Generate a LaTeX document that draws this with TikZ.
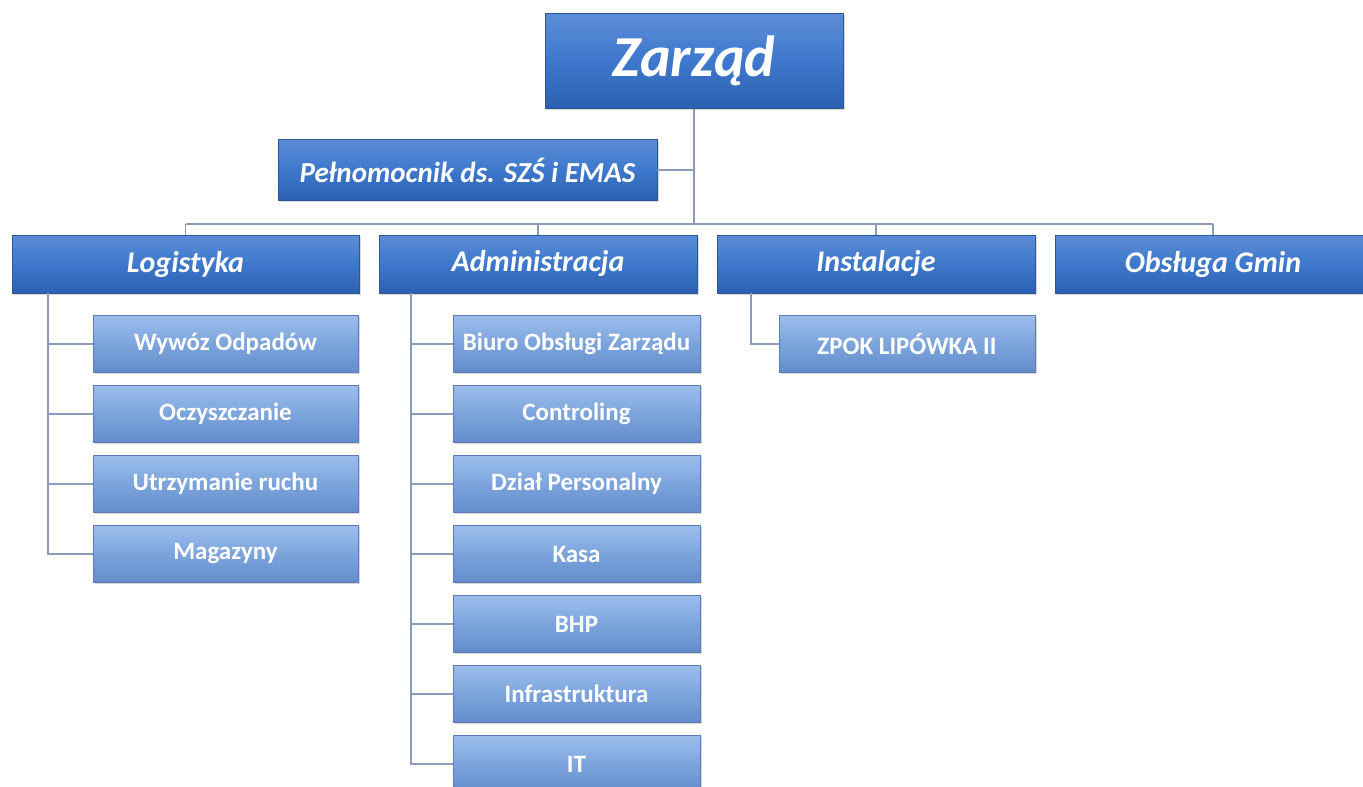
\documentclass[tikz,border=0pt]{standalone}
\usepackage{fontspec}
\setmainfont{Carlito}
\usetikzlibrary{shadows}

\begin{document}
\begin{tikzpicture}[x=1pt,y=1pt,yscale=-1,xscale=1,
    topbox/.style={draw={rgb, 255:red, 44; green, 86; blue, 150}, line width=0.8pt,
        top color={rgb, 255:red, 92; green, 142; blue, 216},
        bottom color={rgb, 255:red, 44; green, 96; blue, 176},
        middle color={rgb, 255:red, 62; green, 120; blue, 204},
        drop shadow={shadow xshift=1.5pt, shadow yshift=-1.5pt, opacity=0.3},
        text=white, inner sep=0pt, minimum height=58pt,
        font=\bfseries\itshape\fontsize{30}{34}\selectfont},
    subbox/.style={draw={rgb, 255:red, 92; green, 126; blue, 180}, line width=0.8pt,
        top color={rgb, 255:red, 156; green, 190; blue, 236},
        bottom color={rgb, 255:red, 100; green, 140; blue, 202},
        middle color={rgb, 255:red, 124; green, 164; blue, 220},
        drop shadow={shadow xshift=1.5pt, shadow yshift=-1.5pt, opacity=0.3},
        text=white, inner sep=0pt, minimum height=57pt,
        font=\bfseries\fontsize{25}{29}\selectfont},
    link/.style={draw={rgb, 255:red, 140; green, 156; blue, 184}, line width=1.3pt}]

    \path[use as bounding box, fill=white] (0,0) rectangle (1363,787);

    % Zarzad and Pelnomocnik
    \node[topbox, minimum width=298pt, minimum height=95pt, font=\bfseries\itshape\fontsize{58}{62}\selectfont] (zarzad) at (694,61) {Zarząd};
    \node[topbox, minimum width=379pt, minimum height=61pt, font=\bfseries\itshape\fontsize{29}{33}\selectfont] (pelnomocnik) at (467.5,170) {Pełnomocnik ds. SZŚ i EMAS};
    \coordinate (bus) at (694,224);

    % Departments
    \node[topbox, minimum width=347pt] (logistyka) at (185.5,264) {Logistyka};
    \node[topbox, minimum width=318pt] (administracja) at (538,264) {Administracja};
    \node[topbox, minimum width=318pt] (instalacje) at (876,264) {Instalacje};
    \node[topbox, minimum width=316pt] (gminy) at (1213,264) {Obsługa Gmin};

    % Links of the top levels
    \draw[link] (zarzad.south) -- (zarzad.south |- bus);
    \draw[link] (pelnomocnik.east) -- (pelnomocnik.east -| zarzad.south);
    \draw[link] (logistyka.north |- bus) -- (gminy.north |- bus);
    \foreach \dept in {logistyka,administracja,instalacje,gminy}
        \draw[link] (\dept.north |- bus) -- (\dept.north);

    % Spines
    \coordinate (logspine) at (48,293);
    \coordinate (admspine) at (411,293);
    \coordinate (insspine) at (751,293);

    % Logistyka units
    \foreach \unit [count=\i from 0] in {Wywóz Odpadów,Oczyszczanie,Utrzymanie ruchu,Magazyny} {
        \draw[link] (logspine) |- (225.5,344+70*\i);
        \node[subbox, minimum width=265pt] (log\i) at (225.5,344+70*\i) {\unit};
    }

    % Administracja units
    \foreach \unit [count=\i from 0] in {Biuro Obsługi Zarządu,Controling,Dział Personalny,Kasa,BHP,Infrastruktura,IT} {
        \draw[link] (admspine) |- (576.5,344+70*\i);
        \node[subbox, minimum width=247pt] (adm\i) at (576.5,344+70*\i) {\unit};
    }

    % Instalacje units
    \draw[link] (insspine) |- (907,344);
    \node[subbox, minimum width=256pt] (ins0) at (907,344) {ZPOK LIPÓWKA II};

\end{tikzpicture}
\end{document}
